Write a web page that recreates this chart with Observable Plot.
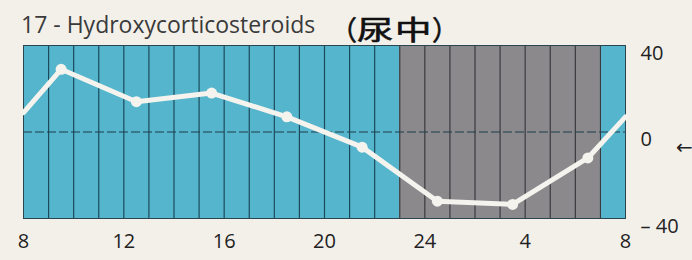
<!DOCTYPE html>
<html>
<head>
<meta charset="utf-8">
<script src="https://cdn.jsdelivr.net/npm/d3@7"></script>
<script src="https://cdn.jsdelivr.net/npm/@observablehq/plot@0.6"></script>
<style>
  html, body { margin: 0; padding: 0; background: #f3f0ea; }
  #wrap { position: relative; width: 692px; height: 260px; overflow: hidden; }
  #title { position: absolute; left: 21px; top: 9px; font-family: "Open Sans", sans-serif; font-size: 23px; color: #3a3a3a; letter-spacing: 0; white-space: nowrap; line-height: 1.362; }
  .cj { position: absolute; top: 15px; font-family: "Noto Sans CJK JP", sans-serif; font-weight: 400; -webkit-text-stroke: 0.6px #111; font-size: 27px; color: #111; line-height: 1; white-space: nowrap; transform-origin: 0 0; }
  .wide { transform: scaleX(1.35); }
  #arrow { position: absolute; left: 676px; top: 135px; font-family: "DejaVu Sans", sans-serif; font-size: 20px; color: #222; }
  #chart { position: absolute; left: 0; top: 0; }
</style>
</head>
<body>
<div id="wrap">
  <div id="chart"></div>
  <div id="title">17 - Hydroxycorticosteroids</div>
  <span class="cj" style="left:330px">（</span>
  <span class="cj wide" style="left:357px">尿</span>
  <span class="cj wide" style="left:395px">中</span>
  <span class="cj" style="left:432px">）</span>
  <div id="arrow">←</div>
</div>
<script>
// Measurement times (hours from 8:00 of day 1; 24 = midnight, 32 = 8:00 next day)
const hours = [8, 9.5, 12.5, 15.5, 18.5, 21.5, 24.5, 27.5, 30.5, 32];
const values = [9, 29, 14, 18, 7, -7, -32, -33.5, -12, 7];
const markerHours = [9.5, 12.5, 15.5, 18.5, 21.5, 24.5, 27.5, 30.5];
const markerValues = [29, 14, 18, 7, -7, -32, -33.5, -12];

// Background bands (day / night)
const bandStart = [8, 23, 31];
const bandEnd = [23, 31, 32];
const bandKind = ["day", "night", "day"];

// Ticks
const xTicks = [8, 12, 16, 20, 24, 28, 32];
const xLabels = ["8", "12", "16", "20", "24", "4", "8"];
const yTicks = [40, 0, -40];
const yLabels = ["40", "0", "– 40"];
const gridHours = d3.range(9, 32);

const series = hours.map((h, i) => ({h, v: values[i]}));
const markers = markerHours.map((h, i) => ({h, v: markerValues[i]}));
const bands = bandStart.map((s, i) => ({s, e: bandEnd[i], k: bandKind[i]}));

const chart = Plot.plot({
  width: 692,
  height: 260,
  marginTop: 45,
  marginBottom: 42,
  marginLeft: 23,
  marginRight: 67,
  style: {background: "transparent", fontFamily: "'Open Sans', sans-serif", fontSize: "20px", color: "#222"},
  x: {domain: [8, 32]},
  y: {domain: [-40, 40]},
  color: {domain: ["day", "night"], range: ["#55b5cc", "#8b898c"]},
  marks: [
    Plot.rect(bands, {x1: "s", x2: "e", y1: -40, y2: 40, fill: "k"}),
    Plot.ruleX(gridHours, {stroke: d => (d >= 23 && d <= 31) ? "#3a3a3e" : "#1c4a5c", strokeWidth: 1.2}),
    Plot.ruleY([0], {stroke: "#1f3f4a", strokeWidth: 1.2, strokeDasharray: "9,3"}),
    Plot.frame({stroke: "#2a4650", strokeWidth: 1}),
    Plot.line(series, {x: "h", y: "v", stroke: "#f4f3ee", strokeWidth: 5, strokeLinejoin: "round"}),
    Plot.dot(markers, {x: "h", y: "v", r: 5.5, fill: "#f4f3ee", stroke: "none"}),
    Plot.axisX({ticks: xTicks, tickFormat: (d) => xLabels[xTicks.indexOf(d)], tickSize: 0, tickPadding: 15, label: null, fontSize: 20}),
    Plot.axisY({anchor: "right", ticks: yTicks, tickFormat: (d) => yLabels[yTicks.indexOf(d)], tickSize: 0, tickPadding: 15, textAnchor: "start", dy: 8, label: null, fontSize: 20})
  ]
});
document.getElementById("chart").appendChild(chart);
</script>
</body>
</html>
